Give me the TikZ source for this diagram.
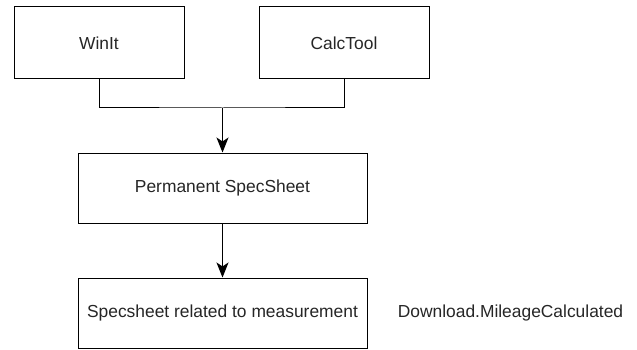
\documentclass[tikz,border=0pt]{standalone}
\usepackage{fontspec}
\setmainfont{Liberation Sans}
\usetikzlibrary{arrows.meta}
\tikzset{
  block/.style={draw=black, line width=1pt, fill=white, inner sep=0pt,
    font=\fontsize{17.4}{20}\selectfont, text=black!85},
  flow/.style={line width=1pt, -{Stealth[length=15pt,width=12pt,inset=4pt]}}
}
\begin{document}
\begin{tikzpicture}[x=1pt,y=-1pt]
        \useasboundingbox (0,0) rectangle (637,350);
        % sources
        \node[block, minimum width=170pt, minimum height=72pt] (winit) at (99,43) {WinIt};
        \node[block, minimum width=170pt, minimum height=72pt] (calctool) at (344,43) {CalcTool};
        % spec sheets
        \node[block, minimum width=289pt, minimum height=70pt] (perm) at (222.5,188) {Permanent SpecSheet};
        \node[block, minimum width=289pt, minimum height=70pt] (meas) at (222.5,313) {Specsheet related to measurement};
        \node[font=\fontsize{17.4}{20}\selectfont, text=black!85] (dl) at (510.5,313) {Download.MileageCalculated};

        \coordinate (join) at (222.5,108);
        \draw[line width=1pt] (winit.south) |- (join) -| (calctool.south);
        \draw[flow] (join) -- (perm.north);
        \draw[flow] (perm.south) -- (meas.north);
    \end{tikzpicture}
\end{document}
